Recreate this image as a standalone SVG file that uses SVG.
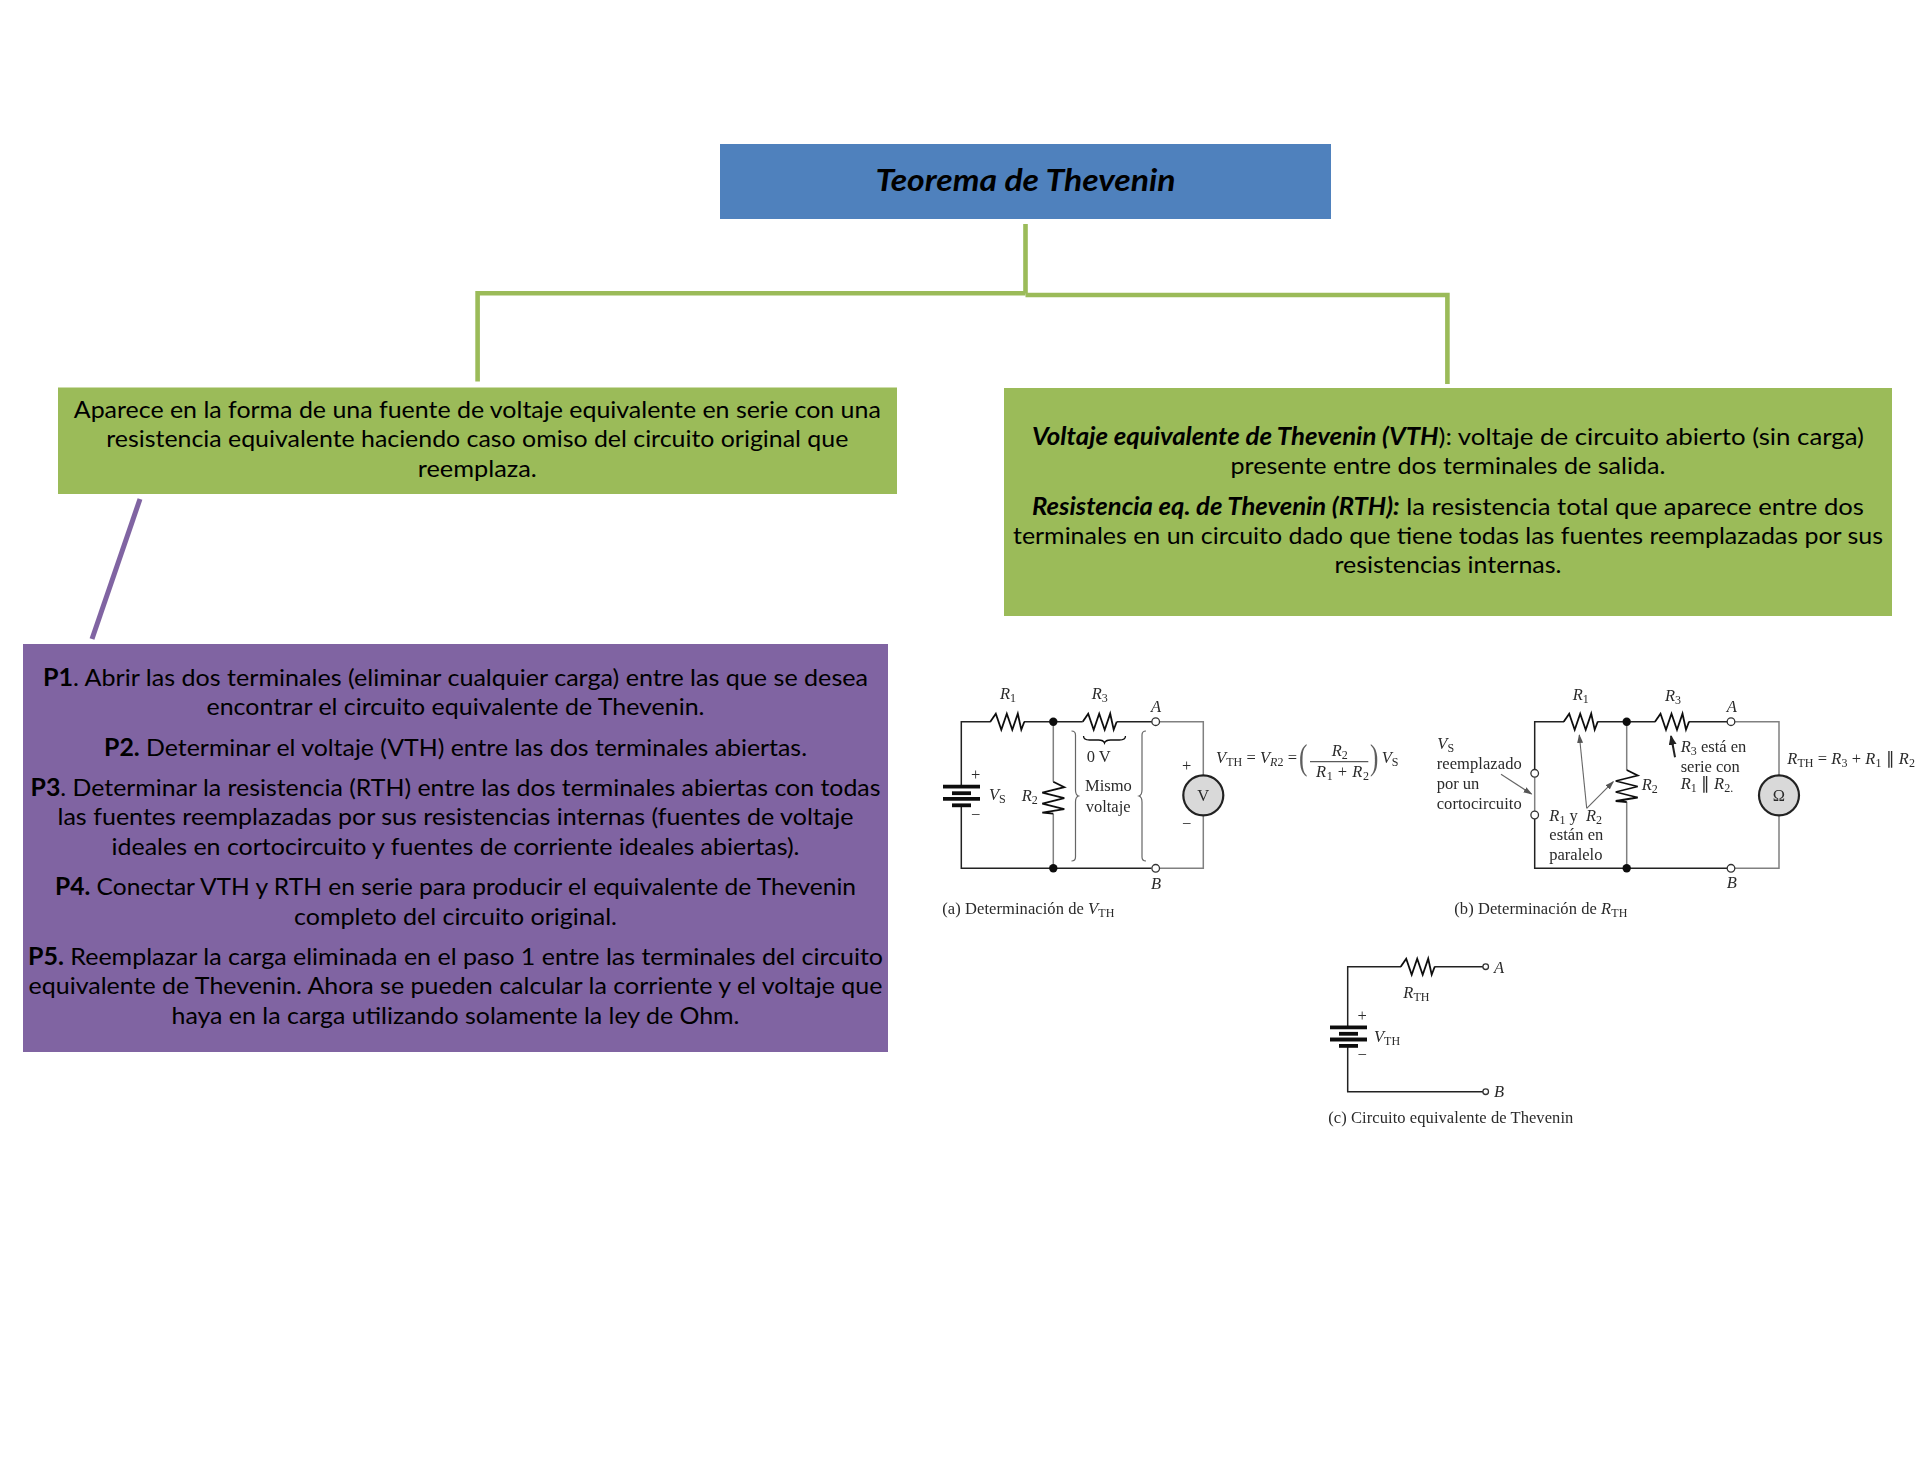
<svg xmlns="http://www.w3.org/2000/svg" width="1920" height="1484" viewBox="0 0 1920 1484">
<style>
.t{font-family:"Lato","Carlito","Liberation Sans",sans-serif;font-size:24px;fill:#000;text-anchor:middle}
.b{font-weight:700}
.bi{font-weight:700;font-style:italic}
.c{font-family:"Liberation Serif",serif;font-size:16.5px;fill:#2a2a2a}
.i{font-style:italic}
.sb{font-size:12px;font-style:normal}
.sbi{font-size:12px;font-style:italic}
.w{fill:none;stroke:#222;stroke-width:1.5}
.g{fill:none;stroke:#808080;stroke-width:1.5}
.r{fill:none;stroke:#111;stroke-width:1.8;stroke-linejoin:miter}
.bar{stroke:#111;stroke-width:3.8}
.o{fill:#fff;stroke:#333;stroke-width:1.3}
.d{fill:#111}
.m{fill:#d9d9d9;stroke:#222;stroke-width:2.2}
.br{fill:none;stroke:#666;stroke-width:1.2}
.a{stroke:#666;stroke-width:1.1;fill:none;marker-end:url(#ah)}
.cn{fill:none;stroke:#9BBB59;stroke-width:4.6}
</style>
<defs>
<marker id="ah" markerWidth="10" markerHeight="8" refX="8" refY="3" orient="auto" markerUnits="userSpaceOnUse"><path d="M0 0L9 3L0 6z" fill="#555"/></marker>
<marker id="ahk" markerWidth="12" markerHeight="10" refX="9" refY="4" orient="auto" markerUnits="userSpaceOnUse"><path d="M0 0L10 4L0 8z" fill="#222"/></marker>
<path id="rh" class="r" d="M0 0L5.5 -8L11 8L16.5 -8L22 8L27.5 -8L31 8L34 0"/>
<path id="rv" class="r" d="M0 0L11 5.5L-11 11L11 16.5L-11 22L11 27.5L-11 31L0 32"/>
<g id="batt"><line class="bar" x1="0" x2="37" y1="0" y2="0"/><line class="bar" x1="9" x2="28" y1="6.5" y2="6.5"/><line class="bar" x1="0" x2="37" y1="12.2" y2="12.2"/><line class="bar" x1="9" x2="28" y1="18.6" y2="18.6"/></g>
<filter id="soft" x="-2%" y="-2%" width="104%" height="104%"><feGaussianBlur stdDeviation="0.5"/></filter>
</defs>
<rect width="1920" height="1484" fill="#fff"/>
<g id="connectors">
<path class="cn" d="M1025.5 224V293.5M1025.5 293.3H477.6V381.5"/>
<path class="cn" d="M1025.5 295H1447.4V384"/>
<path fill="none" stroke="#8064A2" stroke-width="5" d="M140 499L92 639"/>
</g>
<g id="node-title">
<rect x="720" y="144" width="611" height="75" fill="#4F81BD"/>
<text class="t bi" x="1025.5" y="191" style="font-size:31px" textLength="300" lengthAdjust="spacingAndGlyphs">Teorema de Thevenin</text>
</g>
<g id="node-definicion">
<rect x="58" y="387.5" width="839" height="106.5" fill="#9BBB59"/>
<text class="t" x="477.3" y="417.5" textLength="807" lengthAdjust="spacingAndGlyphs">Aparece en la forma de una fuente de voltaje equivalente en serie con una</text>
<text class="t" x="477.3" y="447" textLength="742" lengthAdjust="spacingAndGlyphs">resistencia equivalente haciendo caso omiso del circuito original que</text>
<text class="t" x="477.3" y="476.5" textLength="119" lengthAdjust="spacingAndGlyphs">reemplaza.</text>
</g>
<g id="node-vth-rth">
<rect x="1004" y="388" width="888" height="228" fill="#9BBB59"/>
<text class="t" x="1448" y="445" textLength="832" lengthAdjust="spacingAndGlyphs"><tspan class="bi">Voltaje equivalente de Thevenin (VTH</tspan>): voltaje de circuito abierto (sin carga)</text>
<text class="t" x="1448" y="474" textLength="435" lengthAdjust="spacingAndGlyphs">presente entre dos terminales de salida.</text>
<text class="t" x="1448" y="515" textLength="832" lengthAdjust="spacingAndGlyphs"><tspan class="bi">Resistencia eq. de Thevenin (RTH):</tspan> la resistencia total que aparece entre dos</text>
<text class="t" x="1448" y="544" textLength="870" lengthAdjust="spacingAndGlyphs">terminales en un circuito dado que tiene todas las fuentes reemplazadas por sus</text>
<text class="t" x="1448" y="572.7" textLength="227" lengthAdjust="spacingAndGlyphs">resistencias internas.</text>
</g>
<g id="node-pasos">
<rect x="23" y="644" width="865" height="408" fill="#8064A2"/>
<text class="t" x="455.5" y="686" textLength="825" lengthAdjust="spacingAndGlyphs"><tspan class="b">P1</tspan>. Abrir las dos terminales (eliminar cualquier carga) entre las que se desea</text>
<text class="t" x="455.5" y="715" textLength="498" lengthAdjust="spacingAndGlyphs">encontrar el circuito equivalente de Thevenin.</text>
<text class="t" x="455.5" y="755.5" textLength="703" lengthAdjust="spacingAndGlyphs"><tspan class="b">P2.</tspan> Determinar el voltaje (VTH) entre las dos terminales abiertas.</text>
<text class="t" x="455.5" y="796" textLength="850" lengthAdjust="spacingAndGlyphs"><tspan class="b">P3</tspan>. Determinar la resistencia (RTH) entre las dos terminales abiertas con todas</text>
<text class="t" x="455.5" y="825" textLength="796" lengthAdjust="spacingAndGlyphs">las fuentes reemplazadas por sus resistencias internas (fuentes de voltaje</text>
<text class="t" x="455.5" y="854.5" textLength="688" lengthAdjust="spacingAndGlyphs">ideales en cortocircuito y fuentes de corriente ideales abiertas).</text>
<text class="t" x="455.5" y="895" textLength="801" lengthAdjust="spacingAndGlyphs"><tspan class="b">P4.</tspan> Conectar VTH y RTH en serie para producir el equivalente de Thevenin</text>
<text class="t" x="455.5" y="924.5" textLength="323" lengthAdjust="spacingAndGlyphs">completo del circuito original.</text>
<text class="t" x="455.5" y="965" textLength="855" lengthAdjust="spacingAndGlyphs"><tspan class="b">P5.</tspan> Reemplazar la carga eliminada en el paso 1 entre las terminales del circuito</text>
<text class="t" x="455.5" y="994" textLength="854" lengthAdjust="spacingAndGlyphs">equivalente de Thevenin. Ahora se pueden calcular la corriente y el voltaje que</text>
<text class="t" x="455.5" y="1023.5" textLength="568" lengthAdjust="spacingAndGlyphs">haya en la carga utilizando solamente la ley de Ohm.</text>
</g>
<g id="circuito-a" filter="url(#soft)">
<path class="w" d="M990.7 721.7H961.3V785M961.3 806V868.3H1151.5M1024 721.7H1082.7M1116.7 721.7H1152"/>
<path class="g" d="M1159.7 721.7H1203.3V775M1203.3 815V868.3H1159.7M1053.3 721.7V781.7M1053.3 813.7V868.3"/>
<use href="#rh" x="990.3" y="721.7"/><use href="#rh" x="1082.7" y="721.7"/>
<use href="#rv" x="1053.3" y="781.7"/>
<use href="#batt" x="943" y="786.7"/>
<circle class="d" cx="1053.3" cy="721.7" r="4.2"/><circle class="d" cx="1053.3" cy="868.3" r="4.2"/>
<circle class="o" cx="1155.7" cy="721.7" r="3.8"/><circle class="o" cx="1155.7" cy="868.3" r="3.8"/>
<circle class="m" cx="1203.3" cy="795.3" r="20"/>
<path class="br" d="M1071.5 731q4 0 4 4V790q0 5 3 6q-3 1 -3 6V857q0 4 -4 4M1146 731q-4 0 -4 4V790q0 5 -3 6q3 1 3 6V857q0 4 4 4"/>
<path class="r" style="stroke-width:1.3" d="M1083.5 736q0 4 6 4h9q5 0 6 3q1 -3 6 -3h9q6 0 6 -4"/>
<text class="c i" x="1000" y="699.3">R<tspan class="sb" dy="3">1</tspan></text>
<text class="c i" x="1091.7" y="699.3">R<tspan class="sb" dy="3">3</tspan></text>
<text class="c i" x="1151" y="712.3">A</text>
<text class="c i" x="1151" y="889.3">B</text>
<text class="c" x="971" y="780">+</text><text class="c" x="971" y="820">−</text>
<text class="c i" x="989" y="800">V<tspan class="sb" dy="3">S</tspan></text>
<text class="c i" x="1021.7" y="800.7">R<tspan class="sb" dy="3">2</tspan></text>
<text class="c" x="1086.7" y="761.7">0 V</text>
<text class="c" x="1085" y="791">Mismo</text>
<text class="c" x="1085.7" y="811.7">voltaje</text>
<text class="c" x="1182" y="771">+</text><text class="c" x="1182" y="829">−</text>
<text class="c" x="1203.3" y="801" text-anchor="middle">V</text>
<text class="c i" x="1216" y="763.3" textLength="81">V<tspan class="sb" dy="3">TH</tspan><tspan dy="-3" font-style="normal"> = </tspan>V<tspan class="sbi" dy="3">R</tspan><tspan class="sb">2</tspan><tspan dy="-3" font-style="normal"> = </tspan></text>
<text class="c" x="1299" y="769" style="font-size:36px" transform="translate(1299 769) scale(.7 1) translate(-1299 -769)" fill-opacity=".75">(</text>
<text class="c" x="1370" y="769" style="font-size:36px" transform="translate(1370 769) scale(.7 1) translate(-1370 -769)" fill-opacity=".75">)</text>
<text class="c i" x="1331.7" y="756">R<tspan class="sb" dy="3">2</tspan></text>
<line x1="1310" x2="1368.3" y1="761.7" y2="761.7" stroke="#333" stroke-width="1"/>
<text class="c i" x="1316" y="776.7" textLength="53">R<tspan class="sb" dy="3">1</tspan><tspan dy="-3" font-style="normal"> + </tspan>R<tspan class="sb" dy="3">2</tspan></text>
<text class="c i" x="1381.7" y="763.3">V<tspan class="sb" dy="3">S</tspan></text>
<text class="c" x="942.3" y="914" textLength="172">(a) Determinación de <tspan class="i">V</tspan><tspan class="sb" dy="3">TH</tspan></text>
</g>
<g id="circuito-b" filter="url(#soft)">
<path class="w" d="M1564 721.7H1534.7V769.5M1534.7 819V868.3H1727M1597.3 721.7H1655.3M1688.7 721.7H1727.2"/>
<path class="g" d="M1534.7 777.2V811M1735 721.7H1779V775M1779 815V868.3H1735M1626.7 721.7V770M1626.7 801.7V868.3"/>
<use href="#rh" x="1563.7" y="721.7"/><use href="#rh" x="1655" y="721.7"/>
<use href="#rv" x="1626.7" y="770"/>
<circle class="d" cx="1626.7" cy="721.7" r="4.2"/><circle class="d" cx="1626.7" cy="868.3" r="4.2"/>
<circle class="o" cx="1731" cy="721.7" r="3.8"/><circle class="o" cx="1731" cy="868.3" r="3.8"/>
<circle class="o" cx="1534.7" cy="773.3" r="3.8"/><circle class="o" cx="1534.7" cy="815" r="3.8"/>
<circle class="m" cx="1779" cy="795.3" r="20"/>
<path class="a" d="M1586.7 808.3L1579.3 735"/><path class="a" d="M1586.7 808.3L1613.3 781.7"/><path class="a" d="M1501 774.3L1531.5 794"/>
<path d="M1675 757.3L1671 736" fill="none" stroke="#222" stroke-width="2" marker-end="url(#ahk)"/>
<text class="c i" x="1572.7" y="700">R<tspan class="sb" dy="3">1</tspan></text>
<text class="c i" x="1665" y="700.7">R<tspan class="sb" dy="3">3</tspan></text>
<text class="c i" x="1726.7" y="711.7">A</text>
<text class="c i" x="1726.7" y="888.3">B</text>
<text class="c" x="1680.7" y="751.7"><tspan class="i">R</tspan><tspan class="sb" dy="3">3</tspan><tspan dy="-3"> está en</tspan></text>
<text class="c" x="1680.7" y="772.3">serie con</text>
<text class="c" x="1680.7" y="789.3"><tspan class="i">R</tspan><tspan class="sb" dy="3">1</tspan><tspan dy="-3"> ∥ </tspan><tspan class="i">R</tspan><tspan class="sb" dy="3">2.</tspan></text>
<text class="c i" x="1641.7" y="790">R<tspan class="sb" dy="3">2</tspan></text>
<text class="c" x="1787.3" y="764.3" textLength="127.7"><tspan class="i">R</tspan><tspan class="sb" dy="3">TH</tspan><tspan dy="-3"> = </tspan><tspan class="i">R</tspan><tspan class="sb" dy="3">3</tspan><tspan dy="-3"> + </tspan><tspan class="i">R</tspan><tspan class="sb" dy="3">1</tspan><tspan dy="-3"> ∥ </tspan><tspan class="i">R</tspan><tspan class="sb" dy="3">2</tspan></text>
<text class="c i" x="1437.3" y="749.3">V<tspan class="sb" dy="3">S</tspan></text>
<text class="c" x="1436.7" y="769" textLength="85">reemplazado</text>
<text class="c" x="1436.7" y="789.3">por un</text>
<text class="c" x="1436.7" y="809.3" textLength="85">cortocircuito</text>
<text class="c" x="1549.3" y="821"><tspan class="i">R</tspan><tspan class="sb" dy="3">1</tspan><tspan dy="-3"> y </tspan><tspan class="i" x="1586">R</tspan><tspan class="sb" dy="3">2</tspan></text>
<text class="c" x="1549.3" y="840" textLength="54">están en</text>
<text class="c" x="1549.3" y="860">paralelo</text>
<text class="c" x="1454.3" y="914" textLength="173">(b) Determinación de <tspan class="i">R</tspan><tspan class="sb" dy="3">TH</tspan></text>
<text class="c" x="1779" y="801" text-anchor="middle">Ω</text>
</g>
<g id="circuito-c" filter="url(#soft)">
<path class="w" d="M1401 966.7H1347.7V1026M1347.7 1047V1091.7H1483M1434.3 966.7H1483"/>
<use href="#rh" x="1400.7" y="966.7"/>
<use href="#batt" x="1330" y="1027.3"/>
<circle class="o" cx="1485.7" cy="966.7" r="2.8"/><circle class="o" cx="1485.7" cy="1091.7" r="2.8"/>
<text class="c i" x="1494" y="973.3">A</text>
<text class="c i" x="1494" y="1097.3">B</text>
<text class="c" x="1357.5" y="1021">+</text><text class="c" x="1357.5" y="1060">−</text>
<text class="c i" x="1374" y="1041.7">V<tspan class="sb" dy="3">TH</tspan></text>
<text class="c i" x="1403.3" y="998.3">R<tspan class="sb" dy="3">TH</tspan></text>
<text class="c" x="1328.3" y="1122.7" textLength="245">(c) Circuito equivalente de Thevenin</text>
</g>
</svg>
